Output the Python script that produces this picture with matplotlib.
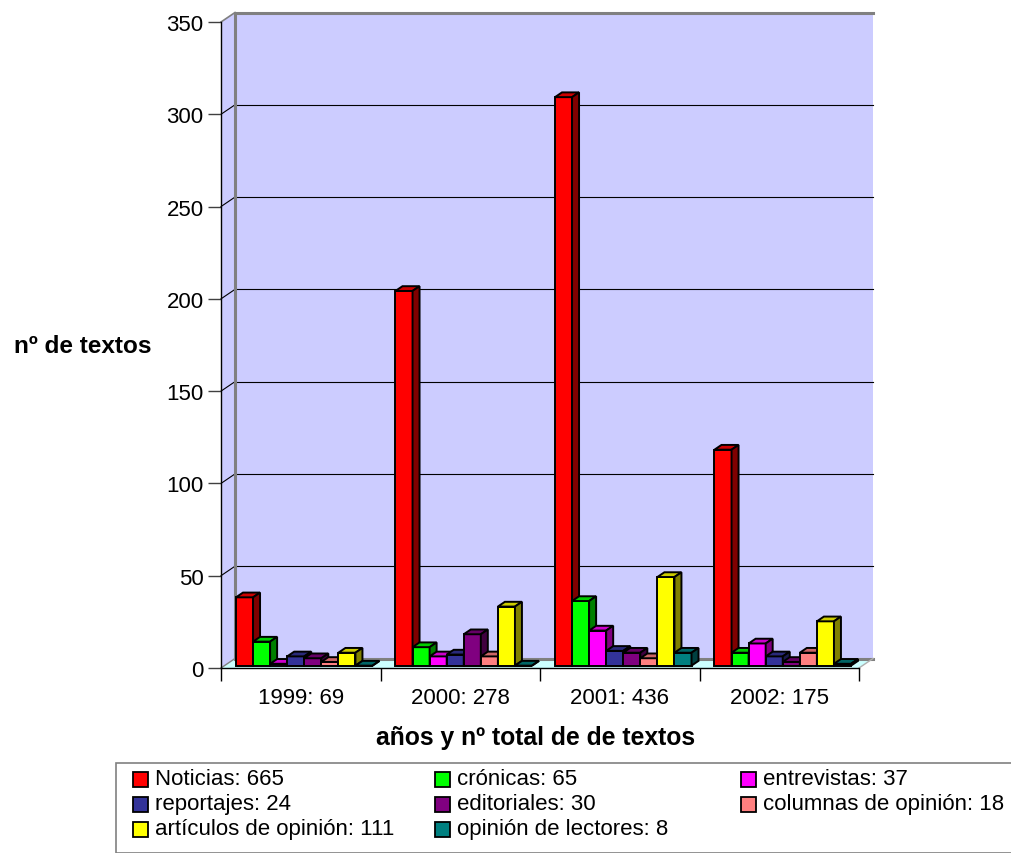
import numpy as np
import matplotlib.pyplot as plt
from matplotlib.patches import Polygon, Rectangle
from matplotlib.colors import to_rgb

plt.rcParams['font.family'] = ['Liberation Sans', 'DejaVu Sans']

# data
years = ['1999: 69', '2000: 278', '2001: 436', '2002: 175']
names = ['Noticias: 665', 'crónicas: 65', 'entrevistas: 37', 'reportajes: 24',
         'editoriales: 30', 'columnas de opinión: 18', 'artículos de opinión: 111',
         'opinión de lectores: 8']
colors = ['#FF0000', '#00FF00', '#FF00FF', '#333399',
          '#800080', '#FF8080', '#FFFF00', '#008080']
noticias = [37, 203, 308, 117]
cronicas = [13, 10, 35, 7]
entrevistas = [1, 5, 19, 12]
reportajes = [5, 6, 8, 5]
editoriales = [4, 17, 7, 2]
columnas = [2, 5, 4, 7]
articulos = [7, 32, 48, 24]
lectores = [0, 0, 7, 1]
series = [noticias, cronicas, entrevistas, reportajes,
          editoriales, columnas, articulos, lectores]

W, H = 1011, 854
fig = plt.figure(figsize=(W / 100, H / 100), dpi=100)
ax = fig.add_axes([221 / W, 1 - 669 / H, 638 / W, 646 / H])
ax.set_xlim(0, 4)
ax.set_ylim(0, 350)
ax.patch.set_visible(False)

# 3d depth, pixels -> data units
ppx = 638 / 4
ppy = 646 / 350
dx = 14 / ppx
dy = 9.5 / ppy

# walls and floor
wall = '#CCCCFF'
ax.add_patch(Polygon([(dx, dy), (4 + dx, dy), (4 + dx, 350 + dy), (dx, 350 + dy)],
                     fc=wall, ec='none', zorder=0, clip_on=False))
ax.add_patch(Polygon([(0, 0), (dx, dy), (dx, 350 + dy), (0, 350)],
                     fc=wall, ec='none', zorder=0, clip_on=False))
ax.add_patch(Polygon([(0, 0), (4, 0), (4 + dx, dy), (dx, dy)],
                     fc='#CCFFFF', ec='none', zorder=0.5, clip_on=False))
for v in range(50, 350, 50):
    ax.plot([dx, 4 + dx], [v + dy, v + dy], color='k', lw=0.8, zorder=1, clip_on=False)
    ax.plot([0, dx], [v, v + dy], color='k', lw=0.8, zorder=1, clip_on=False)
gray = '#808080'
ax.plot([dx, dx, 4 + dx], [dy, 350 + dy, 350 + dy], color=gray, lw=2.2, zorder=1.2, clip_on=False)
ax.plot([0, dx], [350, 350 + dy], color=gray, lw=1.2, zorder=1.2, clip_on=False)
ax.plot([dx, 4 + dx], [dy, dy], color=gray, lw=2.2, zorder=1.2, clip_on=False)
ax.plot([0, dx], [0, dy], color=gray, lw=1, zorder=1.2, clip_on=False)
ax.plot([4, 4 + dx], [0, dy], color='#B0B0B0', lw=1, zorder=1.2, clip_on=False)

# bars
w = 0.107
start = (1 - 8 * w) / 2
f0, f1 = 0.25, 0.75
bx, by = (f1 - f0) * dx, (f1 - f0) * dy
k = 0
for i in range(len(years)):
    for j, vals in enumerate(series):
        c = np.array(to_rgb(colors[j]))
        h = vals[i]
        x0 = i + start + j * w + f0 * dx
        y0 = f0 * dy
        z = 3 + k * 0.01
        ax.add_patch(Rectangle((x0, y0), w, h, fc=c, ec='k', lw=1.4, zorder=z, clip_on=False))
        ax.add_patch(Polygon([(x0, y0 + h), (x0 + w, y0 + h), (x0 + w + bx, y0 + h + by),
                              (x0 + bx, y0 + h + by)], fc=c * 0.8, ec='k', lw=1.4,
                             zorder=z, clip_on=False))
        ax.add_patch(Polygon([(x0 + w, y0), (x0 + w + bx, y0 + by), (x0 + w + bx, y0 + h + by),
                              (x0 + w, y0 + h)], fc=c * 0.5, ec='k', lw=1.4,
                             zorder=z, clip_on=False))
        k += 1

# axes
for s in ['top', 'right']:
    ax.spines[s].set_visible(False)
ax.spines['left'].set_linewidth(1)
ax.spines['bottom'].set_linewidth(1)
ax.set_yticks(range(0, 351, 50))
ax.tick_params(axis='y', direction='out', length=9.5, width=1, color='#404040',
               labelsize=16, pad=3)
ax.set_xticks(range(5))
ax.set_xticklabels([])
ax.set_xticks(np.arange(4) + 0.5, minor=True)
ax.set_xticklabels(years, minor=True)
ax.tick_params(axis='x', which='major', direction='out', length=9.5, width=1)
ax.tick_params(axis='x', which='minor', length=0, labelsize=16, pad=13.5)

fig.text(83 / W, 1 - 347 / H, 'nº de textos', fontsize=17.6, fontweight='bold',
         ha='center', va='center')
fig.text(536 / W, 1 - 738 / H, 'años y nº total de de textos', fontsize=17.8,
         fontweight='bold', ha='center', va='center')

# legend
fig.patches.append(Rectangle((116 / W, 0), 1, 1 - 764 / H, transform=fig.transFigure,
                             fc='white', ec=gray, lw=1.2, zorder=1))
col_x = [133, 435, 741]
row_y = [780, 805, 830]
for n, (name, c) in enumerate(zip(names, colors)):
    r, col = divmod(n, 3)
    mx, my = col_x[col], row_y[r]
    fig.patches.append(Rectangle((mx / W, 1 - (my + 7.5) / H), 15 / W, 15 / H,
                                 transform=fig.transFigure, fc=c, ec='k', lw=1.3, zorder=2))
    fig.text((mx + 22) / W, 1 - my / H, name, fontsize=16, va='center', ha='left', zorder=3)

fig.savefig('out.png', dpi=100)
